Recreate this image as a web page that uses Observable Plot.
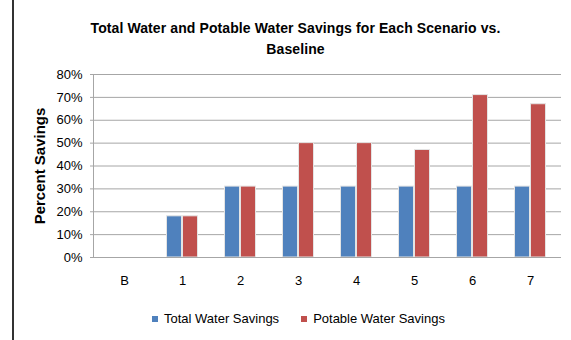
<!DOCTYPE html>
<html>
<head>
<meta charset="utf-8">
<script src="https://cdn.jsdelivr.net/npm/d3@7"></script>
<script src="https://cdn.jsdelivr.net/npm/@observablehq/plot@0.6"></script>
<style>
  html, body { margin: 0; padding: 0; background: #fff; }
  #wrap { position: relative; width: 571px; height: 340px; overflow: hidden; font-family: "Liberation Sans", Arial, sans-serif; }
  #leftline { position: absolute; left: 12px; top: 0; width: 2px; height: 340px; background: #333; }
  #title { position: absolute; left: 10px; width: 571px; top: 18px; text-align: center; font-weight: bold; font-size: 14px; letter-spacing: 0.1px; line-height: 21px; color: #000; }
  #chart { position: absolute; left: 0; top: 62px; }
  #legend { position: absolute; left: 152px; top: 311px; display: flex; gap: 22px; font-size: 13px; color: #000; }
  .item { display: flex; align-items: center; gap: 6px; }
  .sw { width: 6px; height: 6px; display: inline-block; }
</style>
</head>
<body>
<div id="wrap">
  <div id="leftline"></div>
  <div id="title">Total Water and Potable Water Savings for Each Scenario vs.<br>Baseline</div>
  <div id="chart"></div>
  <div id="legend"></div>
</div>
<script>
const scenarios = ["B", "1", "2", "3", "4", "5", "6", "7"];
const totalSavings = [0, 18, 31, 31, 31, 31, 31, 31];
const potableSavings = [0, 18, 31, 50, 50, 47, 71, 67];
const seriesNames = ["Total Water Savings", "Potable Water Savings"];
const seriesColors = ["#4F81BD", "#C0504D"];
const yTicks = [0, 10, 20, 30, 40, 50, 60, 70, 80];

const totalData = scenarios.map((s, i) => ({scenario: s, value: totalSavings[i]}));
const potableData = scenarios.map((s, i) => ({scenario: s, value: potableSavings[i]}));

const chart = Plot.plot({
  width: 571,
  height: 238,
  marginTop: 12,
  marginBottom: 43,
  marginLeft: 93,
  marginRight: 10,
  style: {fontFamily: "'Liberation Sans', Arial, sans-serif", fontSize: "13px", color: "#000", background: "transparent"},
  x: {domain: scenarios, paddingInner: 0, paddingOuter: 0, label: null},
  y: {domain: [0, 80], label: null},
  marks: [
    Plot.gridY(yTicks, {stroke: "#a6a6a6", strokeOpacity: 1, strokeWidth: 1}),
    Plot.barY(totalData, {
      x: "scenario", y: "value", fill: seriesColors[0], stroke: "#e4e4e4", strokeWidth: 1,
      insetLeft: 13.5, insetRight: 29.5
    }),
    Plot.barY(potableData, {
      x: "scenario", y: "value", fill: seriesColors[1], stroke: "#e4e4e4", strokeWidth: 1,
      insetLeft: 29.5, insetRight: 13.5
    }),
    Plot.frame({anchor: "left", stroke: "#a6a6a6"}),
    Plot.axisY({ticks: yTicks, tickFormat: d => d + "%", tickSize: 3, tickPadding: 8, stroke: "#a6a6a6", fontSize: 13, fill: "#000"}),
    Plot.ruleY([0], {stroke: "#a6a6a6", strokeWidth: 1}),
    Plot.axisX({tickSize: 0, tickPadding: 18, fontSize: 13, fill: "#000"}),
    Plot.text(["Percent Savings"], {frameAnchor: "left", textAnchor: "middle", dx: -53, rotate: -90, fontWeight: "bold", fontSize: 15, fill: "#000", style: "letter-spacing:0.5px"})
  ]
});
document.getElementById("chart").appendChild(chart);

const legend = document.getElementById("legend");
seriesNames.forEach((name, i) => {
  const it = document.createElement("div");
  it.className = "item";
  const sw = document.createElement("span");
  sw.className = "sw";
  sw.style.background = seriesColors[i];
  it.appendChild(sw);
  const t = document.createElement("span");
  t.textContent = name;
  it.appendChild(t);
  legend.appendChild(it);
});
</script>
</body>
</html>
